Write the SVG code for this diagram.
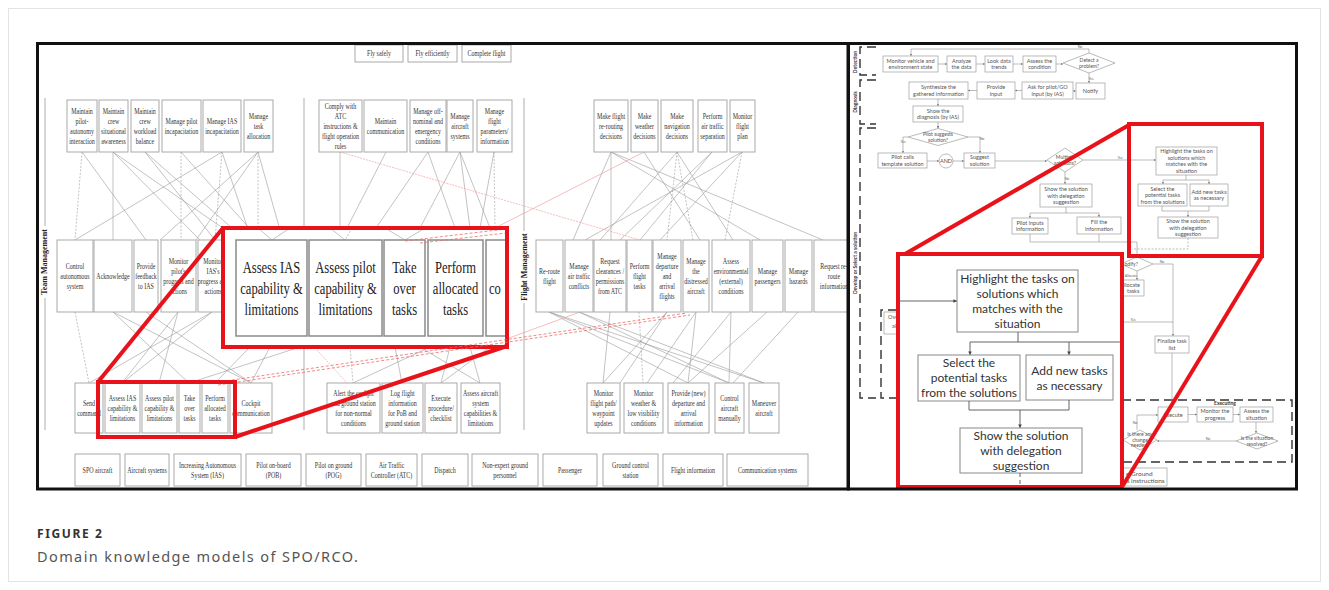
<svg xmlns="http://www.w3.org/2000/svg" width="1329" height="590" viewBox="0 0 1329 590">
<defs>
<style>
.bx{fill:#fff;stroke:#a9a9a9;stroke-width:1}
.t{font-family:"Liberation Serif",serif;font-size:7.5px;fill:#333;text-anchor:middle}
.T{font-family:"Liberation Serif",serif;font-size:17.5px;fill:#222;text-anchor:middle}
.bb{fill:#fff;stroke:#8a8a8a;stroke-width:1.5}
.sec{font-family:"Liberation Serif",serif;font-size:8px;font-weight:bold;fill:#222;text-anchor:middle}
.ln{stroke:#9a9a9a;stroke-width:0.6;fill:none}
.dl{stroke:#9a9a9a;stroke-width:0.6;fill:none;stroke-dasharray:2 1.5}
.sep{stroke:#bdbdbd;stroke-width:1.2}
.pk{stroke:#f3a1a1;stroke-width:0.7;fill:none}
.pkd{stroke:#ee6a6a;stroke-width:0.8;fill:none;stroke-dasharray:3 2}
.red{fill:none;stroke:#e8131a;stroke-width:4}
.redl{stroke:#e8131a;stroke-width:4}
.fb{fill:#fff;stroke:#9d9d9d;stroke-width:0.7}
.f{font-family:Lato,"Open Sans",sans-serif;font-size:5.5px;fill:#555;text-anchor:middle}
.fd{font-family:Lato,"Open Sans",sans-serif;font-size:5px;fill:#555;text-anchor:middle}
.fs{font-family:Lato,"Open Sans",sans-serif;font-size:3.5px;fill:#666;text-anchor:middle}
.F{font-family:Lato,"Open Sans",sans-serif;font-size:12px;fill:#333;text-anchor:middle}
.fl{stroke:#8f8f8f;stroke-width:0.6;fill:none}
.fla{stroke:#8f8f8f;stroke-width:0.6;fill:none;marker-end:url(#ah)}
.fdsh{stroke:#8f8f8f;stroke-width:0.6;fill:none;stroke-dasharray:2 1.5}
.FL{stroke:#555;stroke-width:0.9;fill:none}
.FLA{stroke:#555;stroke-width:0.9;fill:none;marker-end:url(#ahb)}
.brk{stroke:#333;stroke-width:1.4;fill:none;stroke-dasharray:9 5}
.lab{font-family:Lato,"Open Sans",sans-serif;font-size:5px;font-weight:bold;fill:#333;text-anchor:middle}
.cap1{font-family:"Noto Sans","Open Sans",sans-serif;font-size:12px;font-weight:bold;fill:#333;letter-spacing:1.6px}
.cap2{font-family:"Noto Sans","Open Sans",sans-serif;font-size:14.5px;fill:#555;letter-spacing:1.4px}
</style>
<marker id="ah" viewBox="0 0 6 6" refX="6" refY="3" markerWidth="4" markerHeight="4" orient="auto"><path d="M0,0 L6,3 L0,6z" fill="#777"/></marker>
<marker id="ahb" viewBox="0 0 6 6" refX="6" refY="3" markerWidth="4" markerHeight="4" orient="auto"><path d="M0,0 L6,3 L0,6z" fill="#444"/></marker>
<clipPath id="cl"><rect x="37" y="43" width="811" height="446"/></clipPath>
<clipPath id="ci"><rect x="223" y="228" width="284" height="119"/></clipPath>
<clipPath id="cr"><rect x="848" y="43" width="449" height="446"/></clipPath>
<clipPath id="ci2"><rect x="898" y="254" width="224" height="233"/></clipPath>
</defs>
<rect x="0" y="0" width="1329" height="590" fill="#fff"/>
<rect x="8.5" y="8.5" width="1312" height="573" fill="none" stroke="#e3e3e3" stroke-width="1"/>

<!-- ============ LEFT PANEL ============ -->
<g id="left-panel" clip-path="url(#cl)">
<rect x="37" y="43" width="811" height="446" fill="#fff"/>
<g id="separators">
<line class="sep" x1="45" y1="98" x2="45" y2="430"/>
<line class="sep" x1="304" y1="98" x2="304" y2="430"/>
<line class="sep" x1="524" y1="98" x2="524" y2="430"/>
</g>
<g id="connectors-left">
<line class="dl" x1="82" y1="152" x2="75" y2="240"/>
<line class="ln" x1="82" y1="152" x2="146" y2="240"/>
<line class="ln" x1="113" y1="152" x2="113" y2="240"/>
<line class="ln" x1="113" y1="152" x2="200" y2="240"/>
<line class="ln" x1="113" y1="152" x2="240" y2="240"/>
<line class="ln" x1="145" y1="152" x2="215" y2="240"/>
<line class="ln" x1="145" y1="152" x2="232" y2="228"/>
<line class="dl" x1="181" y1="152" x2="181" y2="240"/>
<line class="ln" x1="181" y1="152" x2="260" y2="240"/>
<line class="ln" x1="222" y1="152" x2="75" y2="240"/>
<line class="dl" x1="222" y1="152" x2="215" y2="240"/>
<line class="ln" x1="222" y1="152" x2="250" y2="235"/>
<line class="dl" x1="258" y1="152" x2="258" y2="240"/>
<line class="ln" x1="258" y1="152" x2="160" y2="240"/>
<line class="ln" x1="258" y1="152" x2="196" y2="240"/>
<line class="ln" x1="258" y1="152" x2="280" y2="230"/>
<line class="dl" x1="75" y1="312" x2="89" y2="383"/>
<line class="ln" x1="113" y1="312" x2="251" y2="383"/>
<line class="ln" x1="113" y1="312" x2="189" y2="383"/>
<line class="ln" x1="146" y1="312" x2="251" y2="383"/>
<line class="ln" x1="178" y1="312" x2="159" y2="383"/>
<line class="ln" x1="178" y1="312" x2="122" y2="383"/>
<line class="ln" x1="212" y1="312" x2="122" y2="383"/>
<line class="ln" x1="212" y1="312" x2="89" y2="383"/>
<line class="ln" x1="250" y1="347" x2="215" y2="383"/>
<line class="ln" x1="270" y1="347" x2="251" y2="383"/>
<line class="ln" x1="300" y1="347" x2="189" y2="383"/>
<line class="ln" x1="340" y1="152" x2="340" y2="228"/>
<line class="ln" x1="386" y1="152" x2="347" y2="228"/>
<line class="ln" x1="428" y1="152" x2="376" y2="228"/>
<line class="ln" x1="428" y1="152" x2="455" y2="228"/>
<line class="ln" x1="460" y1="152" x2="420" y2="228"/>
<line class="ln" x1="460" y1="152" x2="470" y2="228"/>
<line class="ln" x1="460" y1="152" x2="490" y2="228"/>
<line class="ln" x1="494" y1="152" x2="480" y2="228"/>
<line class="dl" x1="494" y1="152" x2="495" y2="228"/>
<line class="dl" x1="350" y1="347" x2="353" y2="383"/>
<line class="ln" x1="395" y1="347" x2="402" y2="383"/>
<line class="ln" x1="430" y1="347" x2="353" y2="383"/>
<line class="ln" x1="450" y1="347" x2="441" y2="383"/>
<line class="ln" x1="470" y1="347" x2="480" y2="383"/>
<line class="ln" x1="490" y1="347" x2="441" y2="383"/>
<line class="ln" x1="420" y1="347" x2="480" y2="383"/>
<line class="ln" x1="611" y1="152" x2="573" y2="240"/>
<line class="ln" x1="611" y1="152" x2="611" y2="240"/>
<line class="ln" x1="611" y1="152" x2="760" y2="240"/>
<line class="ln" x1="611" y1="152" x2="823" y2="240"/>
<line class="ln" x1="644" y1="152" x2="700" y2="240"/>
<line class="ln" x1="677" y1="152" x2="600" y2="240"/>
<line class="dl" x1="677" y1="152" x2="667" y2="240"/>
<line class="dl" x1="677" y1="152" x2="693" y2="240"/>
<line class="ln" x1="677" y1="152" x2="733" y2="240"/>
<line class="ln" x1="712" y1="152" x2="620" y2="240"/>
<line class="ln" x1="712" y1="152" x2="640" y2="240"/>
<line class="ln" x1="742" y1="152" x2="660" y2="240"/>
<line class="dl" x1="742" y1="152" x2="725" y2="240"/>
<line class="ln" x1="742" y1="152" x2="585" y2="240"/>
<line class="ln" x1="549" y1="312" x2="688" y2="383"/>
<line class="ln" x1="549" y1="312" x2="729" y2="383"/>
<line class="ln" x1="549" y1="312" x2="764" y2="383"/>
<line class="ln" x1="579" y1="312" x2="729" y2="383"/>
<line class="ln" x1="579" y1="312" x2="764" y2="383"/>
<line class="ln" x1="610" y1="312" x2="603" y2="383"/>
<line class="dl" x1="639" y1="312" x2="643" y2="383"/>
<line class="ln" x1="667" y1="312" x2="620" y2="383"/>
<line class="ln" x1="667" y1="312" x2="603" y2="383"/>
<line class="ln" x1="696" y1="312" x2="647" y2="383"/>
<line class="ln" x1="696" y1="312" x2="688" y2="383"/>
<line class="ln" x1="731" y1="312" x2="729" y2="383"/>
<line class="ln" x1="731" y1="312" x2="673" y2="383"/>
<line class="ln" x1="767" y1="312" x2="688" y2="383"/>
<line class="ln" x1="798" y1="312" x2="733" y2="383"/>
<line class="pk" x1="340" y1="152" x2="640" y2="240" stroke-dasharray="2 1"/>
<line class="pk" x1="644" y1="152" x2="495" y2="228"/>
<line class="pk" x1="490" y1="345" x2="580" y2="312"/>
<line class="pk" x1="317" y1="350" x2="347" y2="383" stroke-dasharray="1.5 1"/>
</g>

<g id="n-fly-safely"><rect class="bx" x="355" y="45" width="48" height="17"/><text class="t" transform="matrix(0.8 0 0 1 379 0)"><tspan x="0" y="56.1">Fly safely</tspan></text></g>
<g id="n-fly-efficiently"><rect class="bx" x="408" y="45" width="49" height="17"/><text class="t" transform="matrix(0.8 0 0 1 432.5 0)"><tspan x="0" y="56.1">Fly efficiently</tspan></text></g>
<g id="n-complete-flight"><rect class="bx" x="462" y="45" width="49" height="17"/><text class="t" transform="matrix(0.8 0 0 1 486.5 0)"><tspan x="0" y="56.1">Complete flight</tspan></text></g>

<g id="n-t1"><rect class="bx" x="67" y="100" width="30" height="52"/><text class="t" transform="matrix(0.8 0 0 1 82 0)"><tspan x="0" y="113.6">Maintain</tspan><tspan x="0" dy="10">pilot-</tspan><tspan x="0" dy="10">autonomy</tspan><tspan x="0" dy="10">interaction</tspan></text></g>
<g id="n-t2"><rect class="bx" x="99" y="100" width="29" height="52"/><text class="t" transform="matrix(0.8 0 0 1 113.5 0)"><tspan x="0" y="113.6">Maintain</tspan><tspan x="0" dy="10">crew</tspan><tspan x="0" dy="10">situational</tspan><tspan x="0" dy="10">awareness</tspan></text></g>
<g id="n-t3"><rect class="bx" x="131" y="100" width="28" height="52"/><text class="t" transform="matrix(0.8 0 0 1 145 0)"><tspan x="0" y="113.6">Maintain</tspan><tspan x="0" dy="10">crew</tspan><tspan x="0" dy="10">workload</tspan><tspan x="0" dy="10">balance</tspan></text></g>
<g id="n-t4"><rect class="bx" x="162" y="100" width="39" height="52"/><text class="t" transform="matrix(0.8 0 0 1 181.5 0)"><tspan x="0" y="123.6">Manage pilot</tspan><tspan x="0" dy="10">incapacitation</tspan></text></g>
<g id="n-t5"><rect class="bx" x="203" y="100" width="38" height="52"/><text class="t" transform="matrix(0.8 0 0 1 222 0)"><tspan x="0" y="123.6">Manage IAS</tspan><tspan x="0" dy="10">incapacitation</tspan></text></g>
<g id="n-t6"><rect class="bx" x="244" y="100" width="29" height="52"/><text class="t" transform="matrix(0.8 0 0 1 258.5 0)"><tspan x="0" y="118.6">Manage</tspan><tspan x="0" dy="10">task</tspan><tspan x="0" dy="10">allocation</tspan></text></g>

<g id="n-f1"><rect class="bx" x="319" y="100" width="43" height="52"/><text class="t" transform="matrix(0.8 0 0 1 340.5 0)"><tspan x="0" y="108.6">Comply with</tspan><tspan x="0" dy="10">ATC</tspan><tspan x="0" dy="10">instructions &amp;</tspan><tspan x="0" dy="10">flight operation</tspan><tspan x="0" dy="10">rules</tspan></text></g>
<g id="n-f2"><rect class="bx" x="364" y="100" width="43" height="52"/><text class="t" transform="matrix(0.8 0 0 1 385.5 0)"><tspan x="0" y="123.6">Maintain</tspan><tspan x="0" dy="10">communication</tspan></text></g>
<g id="n-f3"><rect class="bx" x="410" y="100" width="36" height="52"/><text class="t" transform="matrix(0.8 0 0 1 428 0)"><tspan x="0" y="113.6">Manage off-</tspan><tspan x="0" dy="10">nominal and</tspan><tspan x="0" dy="10">emergency</tspan><tspan x="0" dy="10">conditions</tspan></text></g>
<g id="n-f4"><rect class="bx" x="447" y="100" width="26" height="52"/><text class="t" transform="matrix(0.8 0 0 1 460 0)"><tspan x="0" y="118.6">Manage</tspan><tspan x="0" dy="10">aircraft</tspan><tspan x="0" dy="10">systems</tspan></text></g>
<g id="n-f5"><rect class="bx" x="477" y="100" width="35" height="52"/><text class="t" transform="matrix(0.8 0 0 1 494.5 0)"><tspan x="0" y="113.6">Manage</tspan><tspan x="0" dy="10">flight</tspan><tspan x="0" dy="10">parameters/</tspan><tspan x="0" dy="10">information</tspan></text></g>

<g id="n-g1"><rect class="bx" x="594" y="100" width="34" height="52"/><text class="t" transform="matrix(0.8 0 0 1 611 0)"><tspan x="0" y="118.6">Make flight</tspan><tspan x="0" dy="10">re-routing</tspan><tspan x="0" dy="10">decisions</tspan></text></g>
<g id="n-g2"><rect class="bx" x="631" y="100" width="27" height="52"/><text class="t" transform="matrix(0.8 0 0 1 644.5 0)"><tspan x="0" y="118.6">Make</tspan><tspan x="0" dy="10">weather</tspan><tspan x="0" dy="10">decisions</tspan></text></g>
<g id="n-g3"><rect class="bx" x="661" y="100" width="32" height="52"/><text class="t" transform="matrix(0.8 0 0 1 677 0)"><tspan x="0" y="118.6">Make</tspan><tspan x="0" dy="10">navigation</tspan><tspan x="0" dy="10">decisions</tspan></text></g>
<g id="n-g4"><rect class="bx" x="698" y="100" width="29" height="52"/><text class="t" transform="matrix(0.8 0 0 1 712.5 0)"><tspan x="0" y="118.6">Perform</tspan><tspan x="0" dy="10">air traffic</tspan><tspan x="0" dy="10">separation</tspan></text></g>
<g id="n-g5"><rect class="bx" x="730" y="100" width="25" height="52"/><text class="t" transform="matrix(0.8 0 0 1 742.5 0)"><tspan x="0" y="118.6">Monitor</tspan><tspan x="0" dy="10">flight</tspan><tspan x="0" dy="10">plan</tspan></text></g>

<g id="n-m1"><rect class="bx" x="57" y="240" width="36" height="72"/><text class="t" transform="matrix(0.8 0 0 1 75 0)"><tspan x="0" y="268.6">Control</tspan><tspan x="0" dy="10">autonomous</tspan><tspan x="0" dy="10">system</tspan></text></g>
<g id="n-m2"><rect class="bx" x="94" y="240" width="38" height="72"/><text class="t" transform="matrix(0.8 0 0 1 113 0)"><tspan x="0" y="278.6">Acknowledge</tspan></text></g>
<g id="n-m3"><rect class="bx" x="134" y="240" width="24" height="72"/><text class="t" transform="matrix(0.8 0 0 1 146 0)"><tspan x="0" y="268.6">Provide</tspan><tspan x="0" dy="10">feedback</tspan><tspan x="0" dy="10">to IAS</tspan></text></g>
<g id="n-m4"><rect class="bx" x="161" y="240" width="35" height="72"/><text class="t" transform="matrix(0.8 0 0 1 178.5 0)"><tspan x="0" y="263.6">Monitor</tspan><tspan x="0" dy="10">pilot's</tspan><tspan x="0" dy="10">progress and</tspan><tspan x="0" dy="10">actions</tspan></text></g>
<g id="n-m5"><rect class="bx" x="198" y="240" width="30" height="72"/><text class="t" transform="matrix(0.8 0 0 1 213 0)"><tspan x="0" y="263.6">Monitor</tspan><tspan x="0" dy="10">IAS's</tspan><tspan x="0" dy="10">progress and</tspan><tspan x="0" dy="10">actions</tspan></text></g>

<g id="n-n1"><rect class="bx" x="536" y="240" width="27" height="72"/><text class="t" transform="matrix(0.8 0 0 1 549.5 0)"><tspan x="0" y="273.6">Re-route</tspan><tspan x="0" dy="10">flight</tspan></text></g>
<g id="n-n2"><rect class="bx" x="565" y="240" width="28" height="72"/><text class="t" transform="matrix(0.8 0 0 1 579 0)"><tspan x="0" y="268.6">Manage</tspan><tspan x="0" dy="10">air traffic</tspan><tspan x="0" dy="10">conflicts</tspan></text></g>
<g id="n-n3"><rect class="bx" x="594" y="240" width="32" height="72"/><text class="t" transform="matrix(0.8 0 0 1 610 0)"><tspan x="0" y="263.6">Request</tspan><tspan x="0" dy="10">clearances /</tspan><tspan x="0" dy="10">permissions</tspan><tspan x="0" dy="10">from ATC</tspan></text></g>
<g id="n-n4"><rect class="bx" x="627" y="240" width="25" height="72"/><text class="t" transform="matrix(0.8 0 0 1 639.5 0)"><tspan x="0" y="268.6">Perform</tspan><tspan x="0" dy="10">flight</tspan><tspan x="0" dy="10">tasks</tspan></text></g>
<g id="n-n5"><rect class="bx" x="653" y="240" width="28" height="72"/><text class="t" transform="matrix(0.8 0 0 1 667 0)"><tspan x="0" y="258.6">Manage</tspan><tspan x="0" dy="10">departure</tspan><tspan x="0" dy="10">and</tspan><tspan x="0" dy="10">arrival</tspan><tspan x="0" dy="10">flights</tspan></text></g>
<g id="n-n6"><rect class="bx" x="683" y="240" width="26" height="72"/><text class="t" transform="matrix(0.8 0 0 1 696 0)"><tspan x="0" y="263.6">Manage</tspan><tspan x="0" dy="10">the</tspan><tspan x="0" dy="10">distressed</tspan><tspan x="0" dy="10">aircraft</tspan></text></g>
<g id="n-n7"><rect class="bx" x="712" y="240" width="38" height="72"/><text class="t" transform="matrix(0.8 0 0 1 731 0)"><tspan x="0" y="263.6">Assess</tspan><tspan x="0" dy="10">environmental</tspan><tspan x="0" dy="10">(external)</tspan><tspan x="0" dy="10">conditions</tspan></text></g>
<g id="n-n8"><rect class="bx" x="752" y="240" width="31" height="72"/><text class="t" transform="matrix(0.8 0 0 1 767.5 0)"><tspan x="0" y="273.6">Manage</tspan><tspan x="0" dy="10">passengers</tspan></text></g>
<g id="n-n9"><rect class="bx" x="785" y="240" width="27" height="72"/><text class="t" transform="matrix(0.8 0 0 1 798.5 0)"><tspan x="0" y="273.6">Manage</tspan><tspan x="0" dy="10">hazards</tspan></text></g>
<g id="n-n10"><rect class="bx" x="814" y="240" width="40" height="72"/><text class="t" transform="matrix(0.8 0 0 1 834 0)"><tspan x="0" y="268.6">Request re-</tspan><tspan x="0" dy="10">route</tspan><tspan x="0" dy="10">information</tspan></text></g>

<g id="n-b1"><rect class="bx" x="75" y="383" width="28" height="50"/><text class="t" transform="matrix(0.8 0 0 1 89 0)"><tspan x="0" y="405.6">Send</tspan><tspan x="0" dy="10">command</tspan></text></g>
<g id="n-b2"><rect class="bx" x="105" y="383" width="35" height="50"/><text class="t" transform="matrix(0.8 0 0 1 122.5 0)"><tspan x="0" y="400.6">Assess IAS</tspan><tspan x="0" dy="10">capability &amp;</tspan><tspan x="0" dy="10">limitations</tspan></text></g>
<g id="n-b3"><rect class="bx" x="142" y="383" width="35" height="50"/><text class="t" transform="matrix(0.8 0 0 1 159.5 0)"><tspan x="0" y="400.6">Assess pilot</tspan><tspan x="0" dy="10">capability &amp;</tspan><tspan x="0" dy="10">limitations</tspan></text></g>
<g id="n-b4"><rect class="bx" x="179" y="383" width="21" height="50"/><text class="t" transform="matrix(0.8 0 0 1 189.5 0)"><tspan x="0" y="400.6">Take</tspan><tspan x="0" dy="10">over</tspan><tspan x="0" dy="10">tasks</tspan></text></g>
<g id="n-b5"><rect class="bx" x="202" y="383" width="26" height="50"/><text class="t" transform="matrix(0.8 0 0 1 215 0)"><tspan x="0" y="400.6">Perform</tspan><tspan x="0" dy="10">allocated</tspan><tspan x="0" dy="10">tasks</tspan></text></g>
<g id="n-b6"><rect class="bx" x="230" y="383" width="42" height="50"/><text class="t" transform="matrix(0.8 0 0 1 251 0)"><tspan x="0" y="405.6">Cockpit</tspan><tspan x="0" dy="10">communication</tspan></text></g>
<g id="n-b7"><rect class="bx" x="327" y="383" width="53" height="50"/><text class="t" transform="matrix(0.8 0 0 1 353.5 0)"><tspan x="0" y="395.6">Alert the cockpit</tspan><tspan x="0" dy="10">and ground station</tspan><tspan x="0" dy="10">for non-normal</tspan><tspan x="0" dy="10">conditions</tspan></text></g>
<g id="n-b8"><rect class="bx" x="382" y="383" width="41" height="50"/><text class="t" transform="matrix(0.8 0 0 1 402.5 0)"><tspan x="0" y="395.6">Log flight</tspan><tspan x="0" dy="10">information</tspan><tspan x="0" dy="10">for PoB and</tspan><tspan x="0" dy="10">ground station</tspan></text></g>
<g id="n-b9"><rect class="bx" x="425" y="383" width="32" height="50"/><text class="t" transform="matrix(0.8 0 0 1 441 0)"><tspan x="0" y="400.6">Execute</tspan><tspan x="0" dy="10">procedure/</tspan><tspan x="0" dy="10">checklist</tspan></text></g>
<g id="n-b10"><rect class="bx" x="461" y="383" width="39" height="50"/><text class="t" transform="matrix(0.8 0 0 1 480.5 0)"><tspan x="0" y="395.6">Assess aircraft</tspan><tspan x="0" dy="10">system</tspan><tspan x="0" dy="10">capabilities &amp;</tspan><tspan x="0" dy="10">limitations</tspan></text></g>
<g id="n-c1"><rect class="bx" x="587" y="383" width="33" height="50"/><text class="t" transform="matrix(0.8 0 0 1 603.5 0)"><tspan x="0" y="395.6">Monitor</tspan><tspan x="0" dy="10">flight path/</tspan><tspan x="0" dy="10">waypoint</tspan><tspan x="0" dy="10">updates</tspan></text></g>
<g id="n-c2"><rect class="bx" x="624" y="383" width="39" height="50"/><text class="t" transform="matrix(0.8 0 0 1 643.5 0)"><tspan x="0" y="395.6">Monitor</tspan><tspan x="0" dy="10">weather &amp;</tspan><tspan x="0" dy="10">low visibility</tspan><tspan x="0" dy="10">conditions</tspan></text></g>
<g id="n-c3"><rect class="bx" x="668" y="383" width="41" height="50"/><text class="t" transform="matrix(0.8 0 0 1 688.5 0)"><tspan x="0" y="395.6">Provide (new)</tspan><tspan x="0" dy="10">departure and</tspan><tspan x="0" dy="10">arrival</tspan><tspan x="0" dy="10">information</tspan></text></g>
<g id="n-c4"><rect class="bx" x="715" y="383" width="29" height="50"/><text class="t" transform="matrix(0.8 0 0 1 729.5 0)"><tspan x="0" y="400.6">Control</tspan><tspan x="0" dy="10">aircraft</tspan><tspan x="0" dy="10">manually</tspan></text></g>
<g id="n-c5"><rect class="bx" x="749" y="383" width="30" height="50"/><text class="t" transform="matrix(0.8 0 0 1 764 0)"><tspan x="0" y="405.6">Maneuver</tspan><tspan x="0" dy="10">aircraft</tspan></text></g>

<g id="legend">
<g id="l1"><rect class="bx" x="75" y="454" width="45" height="32"/><text class="t" transform="matrix(0.8 0 0 1 97.5 0)"><tspan x="0" y="472.6">SPO aircraft</tspan></text></g>
<g id="l2"><rect class="bx" x="125" y="454" width="44" height="32"/><text class="t" transform="matrix(0.8 0 0 1 147 0)"><tspan x="0" y="472.6">Aircraft systems</tspan></text></g>
<g id="l3"><rect class="bx" x="174" y="454" width="67" height="32"/><text class="t" transform="matrix(0.8 0 0 1 207.5 0)"><tspan x="0" y="467.6">Increasing Autonomous</tspan><tspan x="0" dy="10">System (IAS)</tspan></text></g>
<g id="l4"><rect class="bx" x="246" y="454" width="55" height="32"/><text class="t" transform="matrix(0.8 0 0 1 273.5 0)"><tspan x="0" y="467.6">Pilot on-board</tspan><tspan x="0" dy="10">(POB)</tspan></text></g>
<g id="l5"><rect class="bx" x="306" y="454" width="55" height="32"/><text class="t" transform="matrix(0.8 0 0 1 333.5 0)"><tspan x="0" y="467.6">Pilot on ground</tspan><tspan x="0" dy="10">(POG)</tspan></text></g>
<g id="l6"><rect class="bx" x="366" y="454" width="51" height="32"/><text class="t" transform="matrix(0.8 0 0 1 391.5 0)"><tspan x="0" y="467.6">Air Traffic</tspan><tspan x="0" dy="10">Controller (ATC)</tspan></text></g>
<g id="l7"><rect class="bx" x="422" y="454" width="46" height="32"/><text class="t" transform="matrix(0.8 0 0 1 445 0)"><tspan x="0" y="472.6">Dispatch</tspan></text></g>
<g id="l8"><rect class="bx" x="472" y="454" width="66" height="32"/><text class="t" transform="matrix(0.8 0 0 1 505 0)"><tspan x="0" y="467.6">Non-expert ground</tspan><tspan x="0" dy="10">personnel</tspan></text></g>
<g id="l9"><rect class="bx" x="543" y="454" width="54" height="32"/><text class="t" transform="matrix(0.8 0 0 1 570 0)"><tspan x="0" y="472.6">Passenger</tspan></text></g>
<g id="l10"><rect class="bx" x="603" y="454" width="55" height="32"/><text class="t" transform="matrix(0.8 0 0 1 630.5 0)"><tspan x="0" y="467.6">Ground control</tspan><tspan x="0" dy="10">station</tspan></text></g>
<g id="l11"><rect class="bx" x="663" y="454" width="60" height="32"/><text class="t" transform="matrix(0.8 0 0 1 693 0)"><tspan x="0" y="472.6">Flight information</tspan></text></g>
<g id="l12"><rect class="bx" x="727" y="454" width="81" height="32"/><text class="t" transform="matrix(0.8 0 0 1 767.5 0)"><tspan x="0" y="472.6">Communication systems</tspan></text></g>
</g>

<g id="section-labels">
<rect x="41" y="226" width="8" height="72" fill="#fff"/>
<text class="sec" transform="translate(47 262) rotate(-90)">Team Management</text>
<rect x="520" y="231" width="8" height="72" fill="#fff"/>
<text class="sec" transform="translate(526.5 267) rotate(-90)">Flight Management</text>
</g>

<g id="inset-left">
<rect x="223" y="228" width="284" height="119" fill="#fff"/>
<g clip-path="url(#ci)">
<line class="ln" x1="258" y1="228" x2="272" y2="240"/>
<line class="ln" x1="290" y1="228" x2="272" y2="240"/>
<line class="ln" x1="330" y1="228" x2="345" y2="240"/>
<line class="dl" x1="352" y1="228" x2="345" y2="240"/>
<line class="ln" x1="385" y1="228" x2="405" y2="240"/>
<line class="ln" x1="425" y1="228" x2="405" y2="240"/>
<g id="n-inset-assess-ias"><rect class="bb" x="236" y="240" width="71" height="96"/><text class="T" transform="matrix(0.72 0 0 1 271.5 0)"><tspan x="0" y="273">Assess IAS</tspan><tspan x="0" dy="21">capability &amp;</tspan><tspan x="0" dy="21">limitations</tspan></text></g>
<g id="n-inset-assess-pilot"><rect class="bb" x="309" y="240" width="73" height="96"/><text class="T" transform="matrix(0.72 0 0 1 345.5 0)"><tspan x="0" y="273">Assess pilot</tspan><tspan x="0" dy="21">capability &amp;</tspan><tspan x="0" dy="21">limitations</tspan></text></g>
<g id="n-inset-take-over"><rect class="bb" x="384" y="240" width="41" height="96"/><text class="T" transform="matrix(0.72 0 0 1 404.5 0)"><tspan x="0" y="273">Take</tspan><tspan x="0" dy="21">over</tspan><tspan x="0" dy="21">tasks</tspan></text></g>
<g id="n-inset-perform"><rect class="bb" x="428" y="240" width="55" height="96"/><text class="T" transform="matrix(0.72 0 0 1 455.5 0)"><tspan x="0" y="273">Perform</tspan><tspan x="0" dy="21">allocated</tspan><tspan x="0" dy="21">tasks</tspan></text></g>
<g id="n-inset-co"><rect class="bb" x="486" y="240" width="40" height="96"/><text class="T" style="text-anchor:start" transform="matrix(0.72 0 0 1 489 0)"><tspan x="0" y="294">co</tspan></text></g>
<line class="pkd" x1="405" y1="241" x2="506" y2="229"/>
<line class="pkd" x1="420" y1="243" x2="506" y2="233"/>
</g>
<rect class="red" x="223" y="228" width="284" height="119"/>
</g>
<line class="pkd" x1="212" y1="383" x2="687" y2="313"/>
<line class="pkd" x1="218" y1="385" x2="690" y2="315"/>
</g>

<!-- ============ RIGHT PANEL ============ -->
<g id="right-panel" clip-path="url(#cr)">
<rect x="848" y="43" width="449" height="446" fill="#fff"/>
<g id="brackets">
<path class="brk" d="M876,47 H860 V75 H876"/>
<path class="brk" d="M876,80 H860 V124 H876"/>
<path class="brk" d="M876,128 H860 V398 H876"/>
<path class="brk" d="M897,310 H881 V398 H897"/>
<path class="brk" d="M1122,400 H1292 V462 H1122"/>
<text class="lab" transform="translate(856.5 62) rotate(-90)">Detection</text>
<text class="lab" transform="translate(856.5 102) rotate(-90)">Diagnosis</text>
<text class="lab" transform="translate(856.5 263) rotate(-90)">Develop or Select a solution</text>
<text class="lab" x="1225" y="404.5">Executing</text>
</g>
<g id="connectors-right">
<line class="fla" x1="938" y1="64" x2="947" y2="64"/>
<line class="fla" x1="976" y1="64" x2="985" y2="64"/>
<line class="fla" x1="1013" y1="64" x2="1023" y2="64"/>
<line class="fla" x1="1056" y1="64" x2="1063" y2="64"/>
<path class="fla" d="M1089,53 V49 H911 V56"/>
<text class="fs" x="1080" y="48">No</text>
<path class="fla" d="M1089,73 V83"/>
<text class="fs" x="1091" y="79.5">Yes</text>
<line class="fla" x1="1076" y1="91" x2="1073" y2="91"/>
<line class="fla" x1="1022" y1="90.5" x2="1015" y2="90.5"/>
<line class="fla" x1="977" y1="90.5" x2="968" y2="90.5"/>
<line class="fla" x1="938" y1="99" x2="938" y2="106"/>
<line class="fla" x1="938" y1="122" x2="938" y2="128.5"/>
<path class="fla" d="M908,137 H903 V153"/>
<text class="fs" x="903" y="143">Yes</text>
<path class="fla" d="M968,137 H980 V153"/>
<text class="fs" x="982" y="140">No</text>
<line class="fla" x1="927" y1="161" x2="939" y2="161"/>
<line class="fla" x1="953" y1="161" x2="964" y2="161"/>
<line class="fla" x1="995" y1="161" x2="1047" y2="161"/>
<line class="fla" x1="1083" y1="160" x2="1156" y2="160"/>
<text class="fs" x="1120" y="158.5">Yes</text>
<path class="fl" d="M1186,175 V180 M1163,180 H1209"/>
<line class="fla" x1="1163" y1="180" x2="1163" y2="184"/>
<line class="fla" x1="1209" y1="180" x2="1209" y2="184"/>
<path class="fl" d="M1162,206 V211 H1209 V206"/>
<line class="fla" x1="1188" y1="211" x2="1188" y2="217"/>
<path class="fdsh" d="M1188,238 V249 H1132"/>
<line class="fla" x1="1065" y1="172" x2="1065" y2="184"/>
<text class="fs" x="1067" y="179.5">No</text>
<path class="fl" d="M1066,207 V213 M1030,213 H1099"/>
<line class="fla" x1="1030" y1="213" x2="1030" y2="218"/>
<line class="fla" x1="1099" y1="213" x2="1099" y2="217"/>
<path class="fl" d="M1030,234 V242 H1099 V234"/>
<path class="fla" d="M1099,242 H1137 V257"/>
<path class="fla" d="M1153,264 H1173 V336"/>
<text class="fs" x="1162" y="263">No</text>
<line class="fla" x1="1137" y1="271" x2="1137" y2="280"/>
<text class="fs" x="1131" y="276.5">Allocate</text>
<line class="fl" x1="1122" y1="322" x2="1173" y2="322"/>
<text class="fs" x="1133" y="321">Yes</text>
<line class="fla" x1="1172" y1="353" x2="1172" y2="407"/>
<line class="fla" x1="1188" y1="414.5" x2="1197" y2="414.5"/>
<line class="fla" x1="1233" y1="414.5" x2="1240" y2="414.5"/>
<line class="fla" x1="1256" y1="422" x2="1256" y2="433"/>
<line class="fla" x1="1236" y1="441" x2="1157" y2="441"/>
<text class="fs" x="1208" y="440">No</text>
<path class="fla" d="M1137,430 V415 H1158"/>
<text class="fs" x="1135" y="424">No</text>
</g>
<g id="r-monitor"><rect class="fb" x="883" y="56" width="55" height="16"/><text class="f" x="910.5" y="62.7">Monitor vehicle and<tspan x="910.5" dy="6.5">environment state</tspan></text></g>
<g id="r-analyze"><rect class="fb" x="947" y="56" width="29" height="16"/><text class="f" x="961.5" y="62.7">Analyze<tspan x="961.5" dy="6.5">the data</tspan></text></g>
<g id="r-look"><rect class="fb" x="985" y="56" width="28" height="16"/><text class="f" x="999" y="62.7">Look data<tspan x="999" dy="6.5">trends</tspan></text></g>
<g id="r-assess"><rect class="fb" x="1023" y="56" width="33" height="16"/><text class="f" x="1039.5" y="62.7">Assess the<tspan x="1039.5" dy="6.5">condition</tspan></text></g>
<g id="r-detect"><polygon class="fb" points="1063,63 1089,53 1115,63 1089,73"/><text class="fd" x="1089" y="62">Detect a<tspan x="1089" dy="6">problem?</tspan></text></g>
<g id="r-notify"><rect class="fb" x="1076" y="83" width="29" height="16"/><text class="f" x="1090.5" y="93">Notify</text></g>
<g id="r-ask"><rect class="fb" x="1022" y="82" width="51" height="17"/><text class="f" x="1047.5" y="89.2">Ask for pilot/GO<tspan x="1047.5" dy="6.5">input (by IAS)</tspan></text></g>
<g id="r-provide"><rect class="fb" x="977" y="82" width="38" height="17"/><text class="f" x="996" y="89.2">Provide<tspan x="996" dy="6.5">input</tspan></text></g>
<g id="r-synth"><rect class="fb" x="909" y="82" width="59" height="17"/><text class="f" x="938.5" y="89.2">Synthesize the<tspan x="938.5" dy="6.5">gathered information</tspan></text></g>
<g id="r-showdiag"><rect class="fb" x="913" y="106" width="50" height="16"/><text class="f" x="938" y="112.7">Show the<tspan x="938" dy="6.5">diagnosis (by IAS)</tspan></text></g>
<g id="r-pilotsugg"><polygon class="fb" points="908,137 938,128.5 968,137 938,145.5"/><text class="fd" x="938" y="136">Pilot suggests<tspan x="938" dy="6">solution?</tspan></text></g>
<g id="r-template"><rect class="fb" x="878" y="153" width="49" height="15"/><text class="f" x="902.5" y="159.2">Pilot calls<tspan x="902.5" dy="6.5">template solution</tspan></text></g>
<g id="r-and"><circle class="fb" cx="946" cy="161" r="7"/><text class="f" x="946" y="163">AND</text></g>
<g id="r-suggest"><rect class="fb" x="964" y="153" width="31" height="15"/><text class="f" x="979.5" y="159.2">Suggest<tspan x="979.5" dy="6.5">solution</tspan></text></g>
<g id="r-multi"><polygon class="fb" points="1047,160 1065,148 1083,160 1065,172"/><text class="fd" x="1065" y="159">Multiple<tspan x="1065" dy="6">solutions?</tspan></text></g>
<g id="r-highlight"><rect class="fb" x="1156" y="147" width="61" height="28"/><text class="f" x="1186.5" y="153.2">Highlight the tasks on<tspan x="1186.5" dy="6.5">solutions which</tspan><tspan x="1186.5" dy="6.5">matches with the</tspan><tspan x="1186.5" dy="6.5">situation</tspan></text></g>
<g id="r-select"><rect class="fb" x="1138" y="184" width="49" height="22"/><text class="f" x="1162.5" y="190.5">Select the<tspan x="1162.5" dy="6.5">potential tasks</tspan><tspan x="1162.5" dy="6.5">from the solutions</tspan></text></g>
<g id="r-add"><rect class="fb" x="1190" y="184" width="38" height="22"/><text class="f" x="1209" y="193.7">Add new tasks<tspan x="1209" dy="6.5">as necessary</tspan></text></g>
<g id="r-show2"><rect class="fb" x="1158" y="217" width="60" height="21"/><text class="f" x="1188" y="223">Show the solution<tspan x="1188" dy="6.5">with delegation</tspan><tspan x="1188" dy="6.5">suggestion</tspan></text></g>
<g id="r-show1"><rect class="fb" x="1040" y="184" width="52" height="23"/><text class="f" x="1066" y="191">Show the solution<tspan x="1066" dy="6.5">with delegation</tspan><tspan x="1066" dy="6.5">suggestion</tspan></text></g>
<g id="r-pilotinputs"><rect class="fb" x="1012" y="218" width="36" height="16"/><text class="f" x="1030" y="224.7">Pilot inputs<tspan x="1030" dy="6.5">information</tspan></text></g>
<g id="r-fill"><rect class="fb" x="1077" y="217" width="44" height="17"/><text class="f" x="1099" y="224.2">Fill the<tspan x="1099" dy="6.5">information</tspan></text></g>
<g id="r-modify"><polygon class="fb" points="1121,264 1137,257 1153,264 1137,271"/><text class="fd" x="1124.5" y="266" style="text-anchor:start">odify?</text></g>
<g id="r-allocate"><rect class="fb" x="1116" y="280" width="28" height="16"/><text class="f" x="1124" y="286.5" style="text-anchor:start">llocate<tspan x="1127" dy="6.5">tasks</tspan></text></g>
<g id="r-override"><rect class="fb" x="884" y="312" width="30" height="22"/><text class="f" x="888" y="319" style="text-anchor:start">Ove<tspan x="892" dy="9">al</tspan></text></g>
<g id="r-finalize"><rect class="fb" x="1155" y="336" width="34" height="17"/><text class="f" x="1172" y="343.2">Finalize task<tspan x="1172" dy="6.5">list</tspan></text></g>
<g id="r-execute"><rect class="fb" x="1158" y="407" width="30" height="15"/><text class="f" x="1173" y="416.5">Execute</text></g>
<g id="r-monprog"><rect class="fb" x="1197" y="407" width="36" height="15"/><text class="f" x="1215" y="413.2">Monitor the<tspan x="1215" dy="6.5">progress</tspan></text></g>
<g id="r-assesssit"><rect class="fb" x="1240" y="407" width="33" height="15"/><text class="f" x="1256.5" y="413.2">Assess the<tspan x="1256.5" dy="6.5">situation</tspan></text></g>
<g id="r-resolved"><polygon class="fb" points="1236,441 1257,433 1278,441 1257,449"/><text class="fd" x="1257" y="440">Is the situation<tspan x="1257" dy="6">resolved?</tspan></text></g>
<g id="r-change"><polygon class="fb" points="1123,440 1140,430 1157,440 1140,450"/><text class="fd" x="1140" y="436">Is there any<tspan x="1140" dy="5.5">change</tspan><tspan x="1140" dy="5.5">needed?</tspan></text></g>
<g id="r-ground"><rect class="fb" x="1100" y="468" width="67" height="18"/><text class="f" x="1126" y="475.5" style="text-anchor:start;font-size:6.5px">e Ground<tspan x="1123" dy="7.5">r's instructions</tspan></text></g>

<rect class="red" x="1129" y="124" width="133" height="132"/>

<g id="inset-right">
<rect x="898" y="254" width="224" height="233" fill="#fff"/>
<g clip-path="url(#ci2)">
<line class="FLA" x1="900" y1="301" x2="957" y2="301"/>
<g id="n-big-highlight"><rect x="957" y="270" width="121" height="62" fill="#fff" stroke="#888" stroke-width="1"/><text class="F" x="1017.5" y="282.5">Highlight the tasks on<tspan x="1017.5" dy="15.2">solutions which</tspan><tspan x="1017.5" dy="15.2">matches with the</tspan><tspan x="1017.5" dy="15.2">situation</tspan></text></g>
<path class="FL" d="M1018,332 V342 M970,342 H1125"/>
<line class="FLA" x1="970" y1="342" x2="970" y2="355"/>
<line class="FLA" x1="1069" y1="342" x2="1069" y2="355"/>
<g id="n-big-select"><rect x="918" y="355" width="102" height="46" fill="#fff" stroke="#888" stroke-width="1"/><text class="F" x="969" y="367">Select the<tspan x="969" dy="15.2">potential tasks</tspan><tspan x="969" dy="15.2">from the solutions</tspan></text></g>
<g id="n-big-add"><rect x="1026" y="355" width="87" height="45" fill="#fff" stroke="#888" stroke-width="1"/><text class="F" x="1069.5" y="374.6">Add new tasks<tspan x="1069.5" dy="15.2">as necessary</tspan></text></g>
<path class="FL" d="M969,401 V410 H1069 V400"/>
<line class="FLA" x1="1020" y1="410" x2="1020" y2="428"/>
<g id="n-big-show"><rect x="960" y="428" width="122" height="45" fill="#fff" stroke="#888" stroke-width="1"/><text class="F" x="1021" y="439.5">Show the solution<tspan x="1021" dy="15.2">with delegation</tspan><tspan x="1021" dy="15.2">suggestion</tspan></text></g>
<line class="FL" x1="1020" y1="473" x2="1020" y2="487" stroke-dasharray="4 3"/>
</g>
<rect class="red" x="898" y="254" width="224" height="233"/>
</g>
</g>

<!-- panel borders -->
<rect x="37.5" y="43.5" width="810.5" height="445.5" fill="none" stroke="#111" stroke-width="3"/>
<rect x="848.5" y="43.5" width="448" height="445.5" fill="none" stroke="#111" stroke-width="3"/>

<!-- red zoom connectors -->
<g id="zoom-connectors">
<rect class="red" x="98" y="382" width="137" height="55"/>
<line class="redl" x1="98" y1="382" x2="223" y2="228"/>
<line class="redl" x1="235" y1="437" x2="507" y2="346"/>
<line class="redl" x1="1129" y1="125" x2="905" y2="254"/>
<line class="redl" x1="1262" y1="256" x2="1122" y2="487"/>
</g>

<g id="caption">
<text class="cap1" x="37" y="538">FIGURE 2</text>
<text class="cap2" x="37" y="562">Domain knowledge models of SPO/RCO.</text>
</g>
</svg>
